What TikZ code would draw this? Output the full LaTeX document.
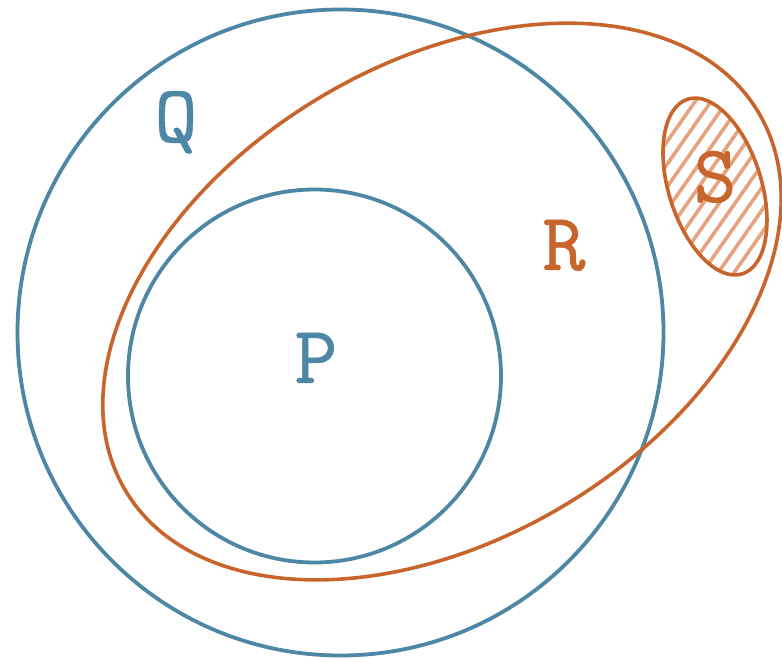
\documentclass[tikz,border=0pt]{standalone}
\usepackage{fontspec}
\newfontfamily\labfont[FakeBold=0.6]{lmmono10-regular.otf}
\definecolor{qblue}{HTML}{4E87A6}
\definecolor{rorange}{HTML}{C8652C}
\definecolor{hatchc}{HTML}{E6A47E}
\begin{document}
\begin{tikzpicture}[x=1pt,y=1pt,
  setblue/.style={draw=qblue,line width=3.8pt},
  setorange/.style={draw=rorange,line width=3.6pt},
  hatchline/.style={draw=hatchc,line width=3.6pt},
  lab/.style={anchor=base,inner sep=0pt,font=\labfont\fontsize{82}{82}\selectfont},
  bluelab/.style={lab,text=qblue},
  orangelab/.style={lab,text=rorange}]
\useasboundingbox (0,0) rectangle (782,659);
\coordinate (Qc) at (340.5,326.5);
\coordinate (Pc) at (314.5,283);
\coordinate (Rc) at (442,357.5);
\coordinate (Sc) at (715,472.5);
% circles
\draw[setblue] (Qc) circle [radius=323pt];
\draw[setblue] (Pc) circle [radius=186.5pt];
% R ellipse
\draw[setorange,rotate around={30.9:(Rc)}] (Rc) ellipse [x radius=368.7pt, y radius=237.8pt];
% S hatch
\begin{scope}
  \clip[rotate around={17.3:(Sc)}] (Sc) ellipse [x radius=46.4pt, y radius=91.5pt];
  \begin{scope}[shift={(Sc)},rotate=55]
    \foreach \i in {-9,...,9}
      \draw[hatchline] (-130,\i*13) -- (130,\i*13);
  \end{scope}
\end{scope}
\draw[setorange,rotate around={17.3:(Sc)}] (Sc) ellipse [x radius=46.4pt, y radius=91.5pt];
% labels
\node[bluelab] (Q) at (176,517) {Q};
\node[bluelab] (P) at (316,276) {P};
\node[orangelab] (R) at (564,389) {R};
\node[orangelab] (S) at (715,457) {S};
\end{tikzpicture}
\end{document}
